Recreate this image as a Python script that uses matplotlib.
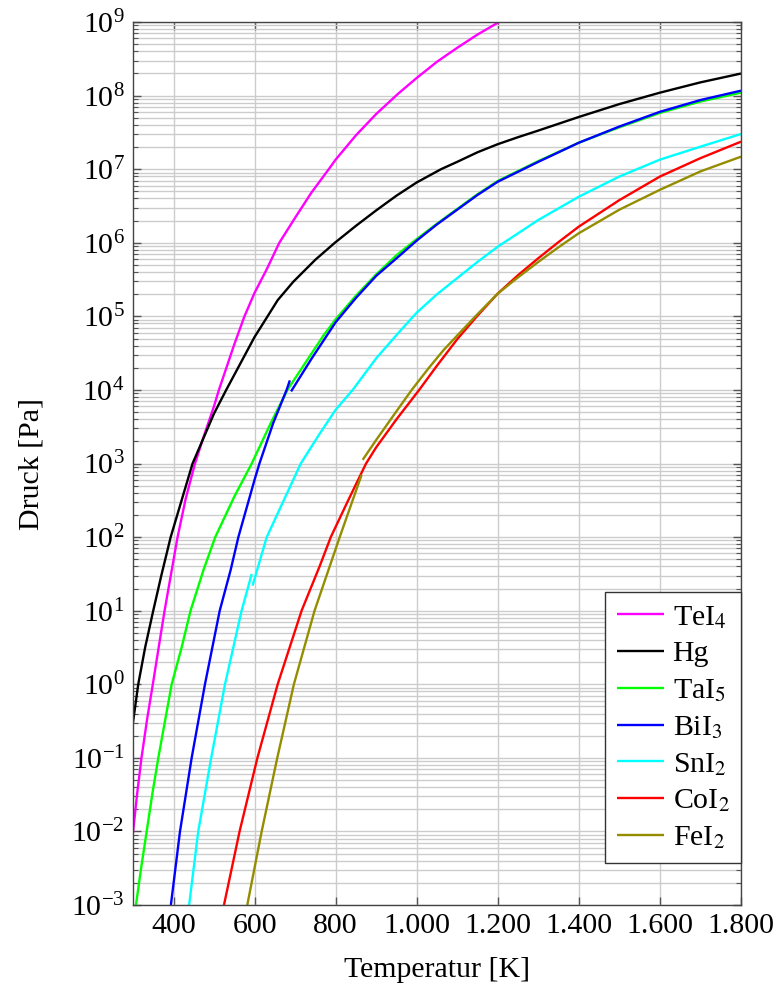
import numpy as np
import matplotlib
matplotlib.use("Agg")
import matplotlib.pyplot as plt
from matplotlib.ticker import FixedLocator, FuncFormatter, NullFormatter, LogFormatterMathtext

# vapour pressure curves, temperature in K, log10 of pressure in Pa
tei4_t = [300, 310, 321, 335, 349, 362.5, 378, 410, 430, 453, 473.5, 500, 512, 550, 575,
          600, 630, 661, 700, 740, 783, 800, 850, 900, 955, 1000, 1050, 1100, 1150, 1203]
tei4_lgp = [-2.02, -1.5, -1, -0.47, 0, 0.47, 1, 2, 2.52, 3, 3.35, 3.78, 4, 4.62, 5,
            5.32, 5.64, 6, 6.34, 6.68, 7, 7.13, 7.46, 7.75, 8.03, 8.24, 8.46, 8.65, 8.83, 9]

hg_t = [300, 313, 330, 350, 370, 393, 420, 447, 473.5, 500, 530, 600, 632, 657, 695.5,
        750, 798, 850, 900, 950, 1000, 1060, 1100, 1150, 1200, 1250, 1300, 1400, 1500,
        1600, 1700, 1800]
hg_lgp = [-0.52, 0, 0.5, 1, 1.48, 2, 2.5, 3, 3.34, 3.68, 4, 4.72, 5, 5.22, 5.47,
          5.77, 6, 6.23, 6.44, 6.64, 6.82, 7, 7.1, 7.23, 7.34, 7.435, 7.525, 7.71, 7.885,
          8.04, 8.18, 8.30]

tai5_t = [300, 307.4, 320, 333.8, 348, 362.5, 395.5, 420, 442, 474, 503, 550, 593, 640,
          681, 770, 800, 850, 900, 950, 1000, 1050, 1100, 1150, 1200, 1300, 1400, 1500,
          1600, 1700, 1800]
tai5_lgp = [-3.3, -3, -2.5, -2, -1.48, -1, 0, 0.5, 1, 1.554, 2, 2.55, 3, 3.55,
            4, 4.74, 4.96, 5.28, 5.57, 5.83, 6.05, 6.26, 6.46, 6.66, 6.84, 7.11, 7.36, 7.57,
            7.765, 7.92, 8.04]

bii3_t1 = [393.5, 416, 444.8, 477.6, 514, 541, 560, 600, 612, 646, 679, 687]
bii3_lgp1 = [-3, -2, -1, 0, 1, 1.554, 2, 2.78, 3, 3.55, 4, 4.13]
bii3_t2 = [690, 740, 800, 850, 900, 958.8, 1000, 1050, 1100, 1150, 1200, 1300, 1400, 1500,
           1600, 1700, 1800]
bii3_lgp2 = [3.98, 4.42, 4.92, 5.25, 5.55, 5.83, 6.03, 6.25, 6.45, 6.65, 6.83, 7.10, 7.36,
             7.58, 7.78, 7.94, 8.067]

sni2_t1 = [438.5, 461, 493, 527, 568, 593]
sni2_lgp1 = [-3, -2, -1, 0, 1, 1.50]
sni2_t2 = [595, 630, 714, 760, 800, 842, 900, 958.8, 1000, 1050, 1100, 1150, 1200, 1300,
           1400, 1500, 1600, 1700, 1800]
sni2_lgp2 = [1.34, 2, 3, 3.4, 3.73, 4, 4.43, 4.8, 5.05, 5.3, 5.52, 5.74, 5.947, 6.31,
             6.626, 6.9, 7.13, 7.306, 7.478]

coi2_t = [524.5, 563, 607, 657, 716, 761, 788, 831, 875, 900, 950, 1006, 1050, 1100, 1150,
          1200, 1250, 1300, 1350, 1400, 1500, 1600, 1700, 1800]
coi2_lgp = [-3, -2, -1, 0, 1, 1.61, 2, 2.5, 3, 3.22, 3.6, 4, 4.33, 4.69, 5.01,
            5.31, 5.56, 5.79, 6.01, 6.22, 6.58, 6.90, 7.15, 7.374]

fei2_t1 = [582, 617.5, 656, 697, 748, 810, 864]
fei2_lgp1 = [-3, -2, -1, 0, 1, 2, 2.845]
fei2_t2 = [866.7, 900, 950, 987.6, 1030, 1066, 1100, 1150, 1200, 1250, 1300, 1350, 1400,
           1500, 1600, 1700, 1800]
fei2_lgp2 = [3.05, 3.32, 3.71, 4, 4.3, 4.54, 4.74, 5.03, 5.31, 5.53, 5.74, 5.94, 6.13,
             6.45, 6.72, 6.97, 7.17]

x_ticks = [400, 600, 800, 1000, 1200, 1400, 1600, 1800]
y_exponents = list(range(-3, 10))

plt.rcParams['font.family'] = 'serif'
plt.rcParams['font.serif'] = ['Liberation Serif', 'DejaVu Serif']
plt.rcParams['mathtext.fontset'] = 'stix'
plt.rcParams['font.size'] = 21.5

fig = plt.figure(figsize=(7.79, 9.88), dpi=100)
ax = fig.add_axes([0.1707, 0.0840, 0.9512 - 0.1707, 0.9777 - 0.0840])

lw = 1.7
def curve(t, lgp, color, label=None):
    ax.plot(t, 10.0 ** np.array(lgp), color=color, lw=lw, label=label, solid_capstyle='butt')

curve(tei4_t, tei4_lgp, '#ff00ff', 'TeI$_4$')
curve(hg_t, hg_lgp, 'black', 'Hg')
curve(tai5_t, tai5_lgp, '#00ff00', 'TaI$_5$')
curve(bii3_t1, bii3_lgp1, '#0000ff', 'BiI$_3$')
curve(bii3_t2, bii3_lgp2, '#0000ff')
curve(sni2_t1, sni2_lgp1, '#00ffff', 'SnI$_2$')
curve(sni2_t2, sni2_lgp2, '#00ffff')
curve(coi2_t, coi2_lgp, '#ff0000', 'CoI$_2$')
curve(fei2_t1, fei2_lgp1, '#958d00', 'FeI$_2$')
curve(fei2_t2, fei2_lgp2, '#958d00')

ax.set_yscale('log')
ax.set_xlim(300, 1800)
ax.set_ylim(1e-3, 1e9)

ax.xaxis.set_major_locator(FixedLocator(x_ticks))
ax.xaxis.set_major_formatter(FuncFormatter(lambda v, p: '{:,.0f}'.format(v).replace(',', '.')))
ax.yaxis.set_major_locator(FixedLocator([10.0 ** e for e in y_exponents]))
ax.yaxis.set_major_formatter(LogFormatterMathtext())
minor = [k * 10.0 ** e for e in y_exponents[:-1] for k in range(2, 10)]
ax.yaxis.set_minor_locator(FixedLocator(minor))
ax.yaxis.set_minor_formatter(NullFormatter())

ax.grid(True, which='major', color='#cccccc', lw=1.0)
ax.grid(True, which='minor', axis='y', color='#cccccc', lw=1.0)
ax.set_axisbelow(True)

ax.tick_params(which='both', direction='in', top=True, right=True, color='#555555')
ax.tick_params(which='major', length=6, width=1, pad=6)
ax.tick_params(which='minor', length=3.5, width=0.8)
for s in ax.spines.values():
    s.set_color('#444444')
    s.set_linewidth(1.0)

ax.set_xlabel('Temperatur [K]', labelpad=13)
ax.set_ylabel('Druck [Pa]', labelpad=19)

leg = ax.legend(loc='lower right', bbox_to_anchor=(1.0, 0.048), borderaxespad=0,
                fancybox=False, framealpha=1, edgecolor='#333333',
                handlelength=1.57, handletextpad=0.3, labelspacing=0.33, borderpad=0.38)
leg.get_frame().set_linewidth(1.0)

fig.savefig('out.png', dpi=100)
